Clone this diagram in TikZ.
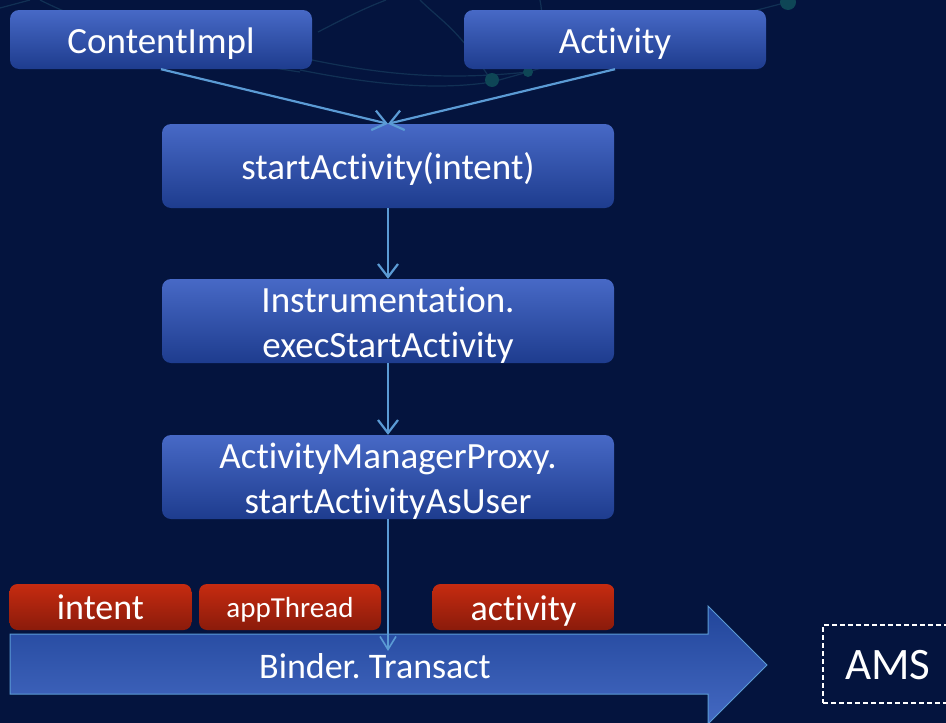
\documentclass[tikz,border=0pt]{standalone}
\usepackage{fontspec}
\setmainfont{Carlito}[Ligatures={NoCommon}]
\usetikzlibrary{arrows.meta}

\definecolor{bgnavy}{HTML}{04143E}
\definecolor{boxtop}{HTML}{4769C6}
\definecolor{boxbot}{HTML}{1E3C8E}
\definecolor{redtop}{HTML}{C62B10}
\definecolor{redbot}{HTML}{8A1B0B}
\definecolor{linkblue}{HTML}{5B9BD5}
\definecolor{bandtop}{HTML}{21459A}
\definecolor{bandbot}{HTML}{4469C2}
\definecolor{webline}{HTML}{15385A}
\definecolor{webdot}{HTML}{0E4656}

% fixed line height so every caption sits at the same depth in its box
\newcommand\boxstrut{\rule[-9pt]{0pt}{45pt}}

\tikzset{
  callbox/.style={rectangle, rounded corners=9pt, inner xsep=0pt, inner ysep=-6pt,
    top color=boxtop, bottom color=boxbot, draw=none,
    text=white, align=center,
    font=\fontsize{37}{45}\selectfont},
  argbox/.style={rectangle, rounded corners=8pt, inner sep=0pt,
    top color=redtop, bottom color=redbot, draw=none,
    minimum width=182pt, minimum height=46pt,
    text=white, font=\fontsize{36}{44}\selectfont},
  flow/.style={draw=linkblue, line width=2.2pt,
    -{Straight Barb[length=13pt,width=20pt,line width=2.2pt]}},
  thinflow/.style={draw=linkblue, line width=1.6pt,
    -{Straight Barb[length=13pt,width=16pt,line width=1.6pt]}},
  web/.style={draw=webline, line width=1.2pt, opacity=0.8},
}

\begin{document}
\begin{tikzpicture}[x=1pt,y=-1pt]
  % page frame and background
  \clip (0,0) rectangle (946,723);
  \fill[bgnavy] (0,0) rectangle (946,723);

  % faint network ornament near the top
  \draw[web] (300,70) .. controls (380,86) and (440,90) .. (492,82);
  \draw[web] (312,60) .. controls (390,76) and (450,80) .. (528,72);
  \draw[web] (40,0) .. controls (120,40) and (220,60) .. (300,72);
  \draw[web] (318,32) .. controls (345,18) and (365,8) .. (386,0);
  \draw[web] (492,82) -- (528,72) .. controls (600,50) and (700,25) .. (788,2);
  \draw[web] (420,0) .. controls (440,20) and (460,30) .. (492,82);
  \draw[web] (540,0) .. controls (545,25) and (540,50) .. (528,72);
  \draw[web] (0,8) -- (30,0);
  \fill[webdot] (492,80) circle (7pt);
  \fill[webdot] (528,72) circle (5pt);
  \fill[webdot] (788,2) circle (8pt);

  % call chain
  \node[callbox, minimum width=302pt, minimum height=59pt] (ctx) at (161,39.5) {\boxstrut ContentImpl};
  \node[callbox, minimum width=302pt, minimum height=59pt] (act) at (615,39.5) {\boxstrut Activity};
  \node[callbox, minimum width=452pt, minimum height=84pt] (start) at (388,166) {\boxstrut startActivity(intent)};
  \node[callbox, minimum width=452pt, minimum height=84pt] (instr) at (388,321) {\boxstrut Instrumentation.\\\boxstrut execStartActivity};
  \node[callbox, minimum width=452pt, minimum height=84pt] (amp) at (388,477) {\boxstrut ActivityManagerProxy.\\\boxstrut startActivityAsUser};

  % marshalled arguments
  \node[argbox] (argintent) at (100.5,607) {intent};
  \node[argbox, font=\fontsize{29}{35}\selectfont] (argthread) at (290,607) {\rule{0pt}{26pt}appThread};
  \node[argbox] (argact) at (523.5,607) {\rule{0pt}{33pt}activity};

  % binder transaction band
  \path[top color=bandtop, bottom color=bandbot, draw=linkblue, line width=1pt]
    (10,634) -- (708,634) -- (708,606) -- (767,665) -- (708,724) -- (708,694)
    -- (10,694) -- cycle;
  \node[text=white, font=\fontsize{36}{44}\selectfont, inner sep=0pt] (binder) at (375,666) {Binder.\ Transact};
  \coordinate (bindertop) at (388,651);

  % remote side
  \node[draw=white, dashed, dash pattern=on 5pt off 3pt, line width=1.5pt,
        minimum width=140pt, minimum height=78pt, inner sep=0pt] (ams) at (893,664) {};
  \node[text=white, font=\fontsize{45}{54}\selectfont, inner sep=0pt] (amslabel) at (888,665) {AMS};

  % connectors
  \draw[flow] (ctx.south) -- (start.north);
  \draw[flow] (act.south) -- (start.north);
  \draw[flow] (start.south) -- (instr.north);
  \draw[flow] (instr.south) -- (amp.north);
  \draw[thinflow] (amp.south) -- (bindertop);
\end{tikzpicture}
\end{document}
